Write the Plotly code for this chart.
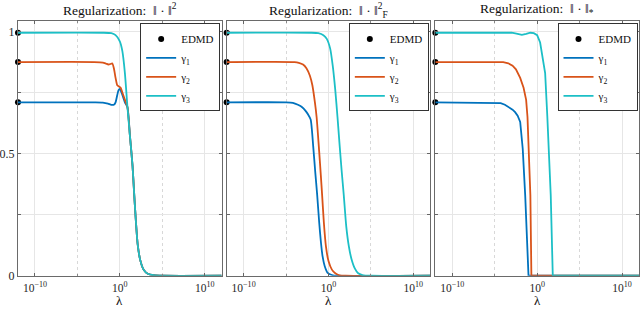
import plotly.graph_objects as go

# ---------------- data (log10 of lambda, gamma values) ----------------
edmd_vals = [0.71, 0.875, 0.995]

# Panel 1: ||.||^2
p1_b_lam = [-12, -3, -2, -1.4, -1.0, -0.7, -0.5, -0.3, -0.15, 0.0, 0.3, 0.6, 0.9, 1.2, 1.5, 1.7, 1.9, 2.1, 2.4, 2.8, 3.3, 4.0, 5.0, 12]
p1_b_val = [0.71, 0.71, 0.709, 0.705, 0.70, 0.70, 0.71, 0.74, 0.76, 0.765, 0.74, 0.71, 0.69, 0.57, 0.45, 0.33, 0.22, 0.13, 0.065, 0.025, 0.008, 0.002, 0.0, 0.0]
p1_o_lam = [-12, -3, -2, -1.6, -1.35, -1.1, -0.9, -0.7, -0.5, -0.3, -0.1, 0.1, 0.3, 0.6, 0.9, 1.2, 1.5, 1.7, 1.9, 2.1, 2.4, 2.8, 3.3, 4.0, 5.0, 12]
p1_o_val = [0.875, 0.875, 0.873, 0.868, 0.865, 0.867, 0.87, 0.85, 0.81, 0.78, 0.775, 0.77, 0.75, 0.72, 0.69, 0.57, 0.45, 0.33, 0.22, 0.13, 0.065, 0.025, 0.008, 0.002, 0.0, 0.0]
p1_c_lam = [-12, -2, -1, -0.5, 0.0, 0.3, 0.6, 0.9, 1.2, 1.5, 1.7, 1.9, 2.1, 2.4, 2.8, 3.3, 4.0, 5.0, 12]
p1_c_val = [0.995, 0.995, 0.993, 0.985, 0.96, 0.92, 0.83, 0.69, 0.57, 0.45, 0.33, 0.22, 0.13, 0.065, 0.025, 0.008, 0.002, 0.0, 0.0]

# Panel 2: ||.||_F^2
p2_b_lam = [-12, -5, -4.2, -3.6, -3.1, -2.7, -2.4, -2.1, -1.8, -1.55, -1.33, -1.1, -0.9, -0.7, -0.45, -0.1, 0.4, 1.0, 12]
p2_b_val = [0.71, 0.71, 0.708, 0.70, 0.69, 0.675, 0.66, 0.64, 0.53, 0.42, 0.33, 0.22, 0.14, 0.08, 0.04, 0.012, 0.003, 0.0, 0.0]
p2_o_lam = [-12, -4, -3.5, -3.0, -2.6, -2.2, -1.9, -1.6, -1.4, -1.1, -0.9, -0.75, -0.55, -0.3, 0.0, 0.4, 0.8, 1.2, 2.0, 12]
p2_o_val = [0.875, 0.875, 0.872, 0.865, 0.85, 0.82, 0.78, 0.71, 0.65, 0.51, 0.41, 0.33, 0.22, 0.12, 0.06, 0.025, 0.01, 0.003, 0.0, 0.0]
p2_c_lam = [-12, -2, -1.2, -0.6, -0.2, 0.2, 0.5, 0.8, 1.06, 1.3, 1.55, 1.8, 2.1, 2.4, 2.7, 3.1, 3.5, 4.0, 5.0, 12]
p2_c_val = [0.995, 0.995, 0.993, 0.985, 0.97, 0.93, 0.86, 0.76, 0.65, 0.54, 0.43, 0.33, 0.20, 0.12, 0.07, 0.03, 0.01, 0.003, 0.0, 0.0]

# Panel 3: ||.||_*
p3_b_lam = [-12, -5, -4.3, -3.8, -3.3, -2.9, -2.6, -2.3, -2.0, -1.7, -1.41, -1.02, 12]
p3_b_val = [0.71, 0.71, 0.707, 0.70, 0.69, 0.68, 0.67, 0.655, 0.63, 0.52, 0.33, 0.0, 0.0]
p3_o_lam = [-12, -4, -3.4, -2.9, -2.5, -2.0, -1.6, -1.3, -1.14, -0.95, -0.8, -0.68, 12]
p3_o_val = [0.875, 0.875, 0.87, 0.86, 0.845, 0.81, 0.77, 0.72, 0.65, 0.50, 0.33, 0.0, 0.0]
p3_c_lam = [-12, -3, -2.3, -1.8, -1.3, -0.8, -0.4, 0.0, 0.35, 0.7, 0.94, 1.2, 1.4, 1.6, 1.84, 12]
p3_c_val = [0.995, 0.995, 0.99, 0.986, 0.99, 0.995, 0.993, 0.985, 0.955, 0.89, 0.83, 0.65, 0.50, 0.33, 0.0, 0.0]

titles = ["Regularization:  ‖ · ‖<sup>2</sup>",
          "Regularization:  ‖ · ‖<sup>2</sup><sub>F</sub>",
          "Regularization:  ‖ · ‖<sub>*</sub>"]
series_names = ["γ<sub>1</sub>", "γ<sub>2</sub>", "γ<sub>3</sub>"]
xtick_vals = [1e-10, 1, 1e10]
xtick_text = ["10<sup>−10</sup>", "10<sup>0</sup>", "10<sup>10</sup>"]
ytick_vals = [0, 0.25, 0.5, 0.75, 1]
ytick_text = ["0", "", "0.5", "", "1"]

# ---------------- styling ----------------
colors = ["#0072BD", "#D95319", "#1CBFC6"]
FONT = "Liberation Serif"
W, H = 640, 315
xdoms_px = [(17, 221), (226, 430), (435, 639)]
ydom = [33 / H, 294 / H]

panels = [
    [(p1_b_lam, p1_b_val), (p1_o_lam, p1_o_val), (p1_c_lam, p1_c_val)],
    [(p2_b_lam, p2_b_val), (p2_o_lam, p2_o_val), (p2_c_lam, p2_c_val)],
    [(p3_b_lam, p3_b_val), (p3_o_lam, p3_o_val), (p3_c_lam, p3_c_val)],
]
shapes_line = ["spline", "spline", "linear"]

fig = go.Figure()
layout = dict(width=W, height=H, margin=dict(l=0, r=0, t=0, b=0),
              paper_bgcolor="white", plot_bgcolor="white",
              font=dict(family=FONT, size=12, color="#262626"),
              showlegend=True)
annotations = []

for i, series in enumerate(panels):
    k = "" if i == 0 else str(i + 1)
    xa, ya = "x" + k, "y" + k
    lg = "legend" + k
    x0, x1 = xdoms_px[i]
    layout["xaxis" + k] = dict(
        type="log", range=[-12, 12], domain=[x0 / W, x1 / W], anchor=ya,
        tickvals=xtick_vals, ticktext=xtick_text, ticks="inside", ticklen=3,
        tickcolor="#666", showline=True, linecolor="#6a6a6a", linewidth=1,
        mirror="ticks", showgrid=True, gridcolor="#e6e6e6", gridwidth=1,
        zeroline=False, tickfont=dict(size=11.5, family=FONT), ticklabelstandoff=1,
        minor=dict(tickvals=[1e-5, 1e5], showgrid=True, griddash="dot",
                   gridcolor="#d8d8d8", ticks="inside", ticklen=2, tickcolor="#888"),
    )
    layout["yaxis" + k] = dict(
        range=[0, 1.045], domain=ydom, anchor=xa,
        tickvals=ytick_vals, ticktext=ytick_text, ticks="inside", ticklen=3,
        tickcolor="#666", showline=True, linecolor="#6a6a6a", linewidth=1,
        mirror="ticks", showgrid=True, gridcolor="#e6e6e6", gridwidth=1,
        zeroline=False, showticklabels=(i == 0), tickfont=dict(size=12, family=FONT),
    )
    layout[lg] = dict(
        x=(x1 - 1.5) / W, y=1 - 24 / H, xanchor="right", yanchor="top",
        bgcolor="white", bordercolor="#333", borderwidth=1,
        font=dict(family=FONT, size=11, color="#111"), tracegroupgap=0,
        itemwidth=30,
    )
    # EDMD markers
    fig.add_trace(go.Scatter(
        x=[1e-12] * 3, y=edmd_vals, mode="markers", name="EDMD",
        marker=dict(color="black", size=6), xaxis=xa, yaxis=ya,
        legend=lg, cliponaxis=False))
    for j, (lam, val) in enumerate(series):
        fig.add_trace(go.Scatter(
            x=[10 ** v for v in lam], y=val, mode="lines", name=series_names[j],
            line=dict(color=colors[j], width=1.8, shape=shapes_line[i],
                      smoothing=0.6 if shapes_line[i] == "spline" else None),
            xaxis=xa, yaxis=ya, legend=lg))
    cx = (x0 + x1) / 2 / W
    annotations.append(dict(text=titles[i], x=cx, y=1, xref="paper", yref="paper",
                            xanchor="center", yanchor="top", showarrow=False,
                            borderpad=0, font=dict(family=FONT, size=13.5, color="#111")))
    annotations.append(dict(text="λ", x=cx, y=0, xref="paper", yref="paper",
                            xanchor="center", yanchor="bottom", showarrow=False,
                            borderpad=0, yshift=-1,
                            font=dict(family=FONT, size=13, color="#111")))

layout["annotations"] = annotations
fig.update_layout(**layout)
fig.write_html("out.html", config={"displayModeBar": False},
               post_script="document.body.style.margin='0';")
